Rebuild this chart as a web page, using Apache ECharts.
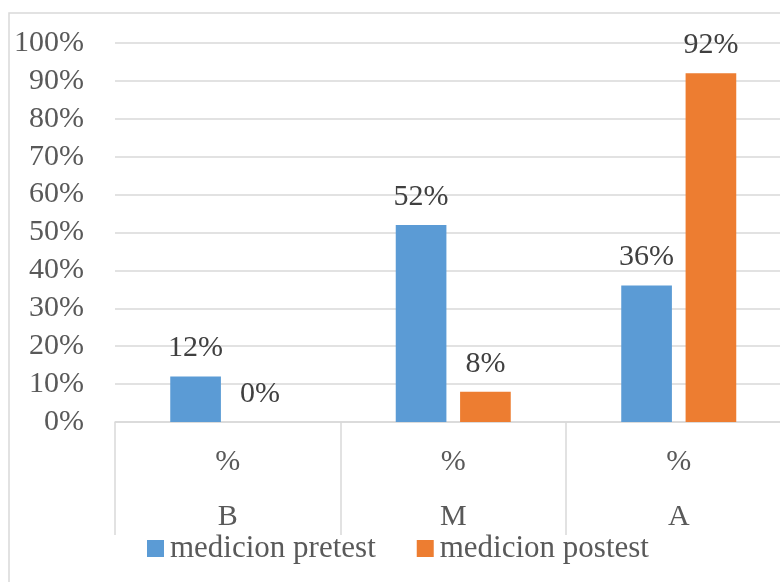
<!DOCTYPE html>
<html>
<head>
<meta charset="utf-8">
<script src="https://cdn.jsdelivr.net/npm/echarts@6/dist/echarts.min.js"></script>
<style>html,body{margin:0;padding:0;background:#fff;overflow:hidden}#c{width:780px;height:582px}</style>
</head>
<body>
<div id="c"></div>
<script>
const categories = ['B', 'M', 'A'];
const subLabels = ['%', '%', '%'];
const seriesNames = ['medicion pretest', 'medicion postest'];
const pretest = [0.12, 0.52, 0.36];
const postest = [0.00, 0.08, 0.92];
const yTicks = [0, 0.1, 0.2, 0.3, 0.4, 0.5, 0.6, 0.7, 0.8, 0.9, 1.0];

const FONT = '"Liberation Serif", "Times New Roman", serif';
const FS = 30;
const pct = v => Math.round(v * 100) + '%';

const chart = echarts.init(document.getElementById('c'), null, {renderer: 'canvas'});
chart.setOption({
  animation: false,
  backgroundColor: '#fff',
  textStyle: {fontFamily: FONT},
  graphic: [{
    type: 'rect', shape: {x: 9, y: 13, width: 900, height: 700},
    style: {fill: 'none', stroke: '#d9d9d9', lineWidth: 1.5}, z: -1
  }],
  grid: {left: 115, width: 676.5, top: 43, height: 379, containLabel: false, outerBoundsMode: 'none'},
  legend: {
    data: seriesNames, left: 147, top: 533, padding: 0, itemWidth: 17, itemHeight: 17, itemGap: 41,
    icon: 'rect',
    textStyle: {fontFamily: FONT, fontSize: 31, color: '#595959', padding: [0, 0, 0, 1]}
  },
  xAxis: [{
    type: 'category', data: subLabels, position: 'bottom',
    axisLine: {show: true, lineStyle: {color: '#d9d9d9', width: 1.5}},
    axisTick: {show: true, length: 113, alignWithLabel: false, lineStyle: {color: '#d9d9d9', width: 1.5}},
    axisLabel: {fontFamily: FONT, fontSize: FS, color: '#595959', margin: 25}
  }, {
    type: 'category', data: categories, position: 'bottom', offset: 55,
    axisLine: {show: false}, axisTick: {show: false},
    axisLabel: {fontFamily: FONT, fontSize: FS, color: '#595959', margin: 25}
  }],
  yAxis: {
    type: 'value', min: yTicks[0], max: yTicks[yTicks.length - 1], interval: 0.1,
    axisLine: {show: false}, axisTick: {show: false},
    splitLine: {lineStyle: {color: '#d9d9d9', width: 1.5}},
    axisLabel: {fontFamily: FONT, fontSize: FS, color: '#595959', margin: 31, formatter: v => pct(v)}
  },
  series: [{
    name: seriesNames[0], type: 'bar', data: pretest, xAxisIndex: 0,
    barGap: '27%', barCategoryGap: '49%',
    itemStyle: {color: '#5B9BD5'},
    label: {show: true, position: 'top', distance: 13, fontFamily: FONT, fontSize: FS, color: '#404040', formatter: p => pct(p.value)}
  }, {
    name: seriesNames[1], type: 'bar', data: postest, xAxisIndex: 0,
    barGap: '27%', barCategoryGap: '49%',
    itemStyle: {color: '#ED7D31'},
    label: {show: true, position: 'top', distance: 13, fontFamily: FONT, fontSize: FS, color: '#404040', formatter: p => pct(p.value)}
  }]
});
</script>
</body>
</html>
